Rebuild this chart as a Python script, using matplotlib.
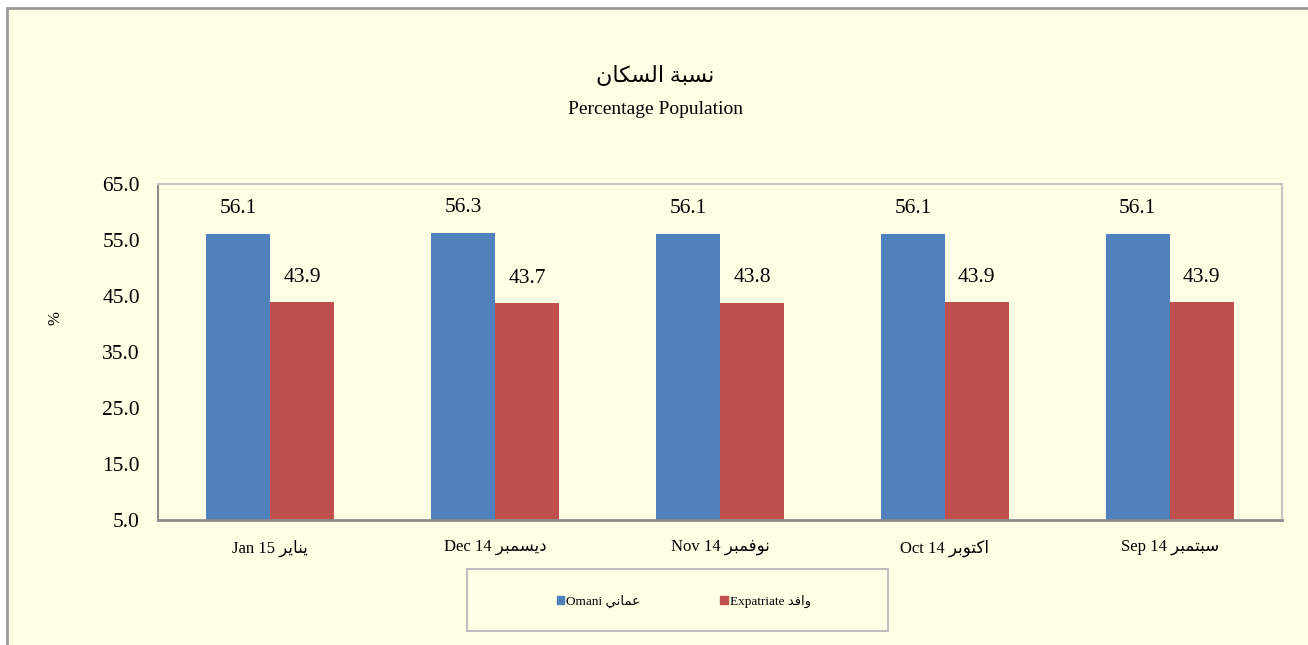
import matplotlib
matplotlib.use("Agg")
import matplotlib.pyplot as plt
from matplotlib.patches import Rectangle
import numpy as np

# ---------------- data ----------------
categories_en = ["Jan 15", "Dec 14", "Nov 14", "Oct 14", "Sep 14"]
categories_ar = ["يناير", "ديسمبر", "نوفمبر", "اكتوبر", "سبتمبر"]
omani = [56.1, 56.3, 56.1, 56.1, 56.1]
expatriate = [43.9, 43.7, 43.8, 43.9, 43.9]
series_en = ["Omani", "Expatriate"]
series_ar = ["عماني", "وافد"]
title_ar = "نسبة السكان"
title_en = "Percentage Population"
yticks = [5.0, 15.0, 25.0, 35.0, 45.0, 55.0, 65.0]

# ------- minimal Arabic shaping (contextual forms + visual order) -------
FORMS = {
    'ا': ('\uFE8D', '\uFE8E', None, None),
    'ب': ('\uFE8F', '\uFE90', '\uFE91', '\uFE92'),
    'ة': ('\uFE93', '\uFE94', None, None),
    'ت': ('\uFE95', '\uFE96', '\uFE97', '\uFE98'),
    'د': ('\uFEA9', '\uFEAA', None, None),
    'ر': ('\uFEAD', '\uFEAE', None, None),
    'س': ('\uFEB1', '\uFEB2', '\uFEB3', '\uFEB4'),
    'ع': ('\uFEC9', '\uFECA', '\uFECB', '\uFECC'),
    'ف': ('\uFED1', '\uFED2', '\uFED3', '\uFED4'),
    'ك': ('\uFED9', '\uFEDA', '\uFEDB', '\uFEDC'),
    'ل': ('\uFEDD', '\uFEDE', '\uFEDF', '\uFEE0'),
    'م': ('\uFEE1', '\uFEE2', '\uFEE3', '\uFEE4'),
    'ن': ('\uFEE5', '\uFEE6', '\uFEE7', '\uFEE8'),
    'و': ('\uFEED', '\uFEEE', None, None),
    'ي': ('\uFEF1', '\uFEF2', '\uFEF3', '\uFEF4'),
}


def shape(text):
    chars = list(text)
    out = []
    for i, c in enumerate(chars):
        if c not in FORMS:
            out.append(c)
            continue
        iso, fin, ini, med = FORMS[c]
        prev = chars[i - 1] if i > 0 else None
        nxt = chars[i + 1] if i + 1 < len(chars) else None
        jp = prev in FORMS and FORMS[prev][2] is not None
        jn = nxt in FORMS and ini is not None
        if jp and jn:
            f = med
        elif jp:
            f = fin
        elif jn:
            f = ini
        else:
            f = iso
        out.append(f)
    return "".join(reversed(out))


FAM = ["Liberation Serif", "DejaVu Sans"]
plt.rcParams["font.family"] = FAM

BG = "#FFFFE6"
BLUE = "#4F81BD"
RED = "#C0504D"

W, H = 1308, 645
fig = plt.figure(figsize=(W / 100, H / 100), dpi=100, facecolor="white")

# outer chart frame
fig.patches.append(Rectangle((7 / W, -0.2), 1.2, (H - 8) / H + 0.2,
                             transform=fig.transFigure, facecolor=BG,
                             edgecolor="#9A9A9A", lw=2, zorder=-10))

ax = fig.add_axes([158 / W, 1 - 520 / H, (1282 - 158) / W, (520 - 184) / H])
ax.set_facecolor(BG)

x = np.arange(len(categories_en))
bw = 64 / 225
b1 = ax.bar(x - bw / 2, omani, bw, color=BLUE, zorder=2)
b2 = ax.bar(x + bw / 2, expatriate, bw, color=RED, zorder=2)

for bars, vals in ((b1, omani), (b2, expatriate)):
    for r, v in zip(bars, vals):
        ax.annotate(f"{v:.1f}", (r.get_x() + r.get_width() / 2, v),
                    xytext=(0, 18), textcoords="offset points",
                    ha="center", va="center", fontsize=15.5)

ax.set_xlim(-0.5, len(x) - 0.5)
ax.set_ylim(5, 65)
ax.set_yticks(yticks)
ax.set_yticklabels([f"{t:.1f}" for t in yticks], fontsize=15.5)
ax.set_xticks(x)
ax.set_xticklabels([f"{e} {shape(a)}" for e, a in zip(categories_en, categories_ar)],
                   fontsize=12)
ax.tick_params(axis="both", length=0)
ax.tick_params(axis="y", pad=13)
ax.tick_params(axis="x", pad=14)

for s in ("top", "right"):
    ax.spines[s].set_color("#C4C4C4")
    ax.spines[s].set_linewidth(1.5)
ax.spines["left"].set_color("#8C8C8C")
ax.spines["left"].set_linewidth(1.5)
ax.spines["bottom"].set_color("#8C8C8C")
ax.spines["bottom"].set_linewidth(2)

fig.text(55 / W, 1 - 318 / H, "%", rotation=90, ha="center", va="center", fontsize=12)

fig.text(655 / W, 1 - 76 / H, shape(title_ar), ha="center", va="center", fontsize=16)
fig.text(655 / W, 1 - 110 / H, title_en, ha="center", va="center", fontsize=14)

# legend box
fig.patches.append(Rectangle((467 / W, 1 - 631 / H), 421 / W, 62 / H,
                             transform=fig.transFigure, facecolor=BG,
                             edgecolor="#BDBDBD", lw=1.5, zorder=-5))
handles = [Rectangle((0, 0), 1, 1, color=BLUE), Rectangle((0, 0), 1, 1, color=RED)]
labels = [f"{e} {shape(a)}" for e, a in zip(series_en, series_ar)]
fig.legend(handles, labels, loc="center", bbox_to_anchor=(684 / W, 1 - 601 / H),
           ncol=2, frameon=False, fontsize=9.5, handlelength=0.55, handleheight=0.55,
           handletextpad=0.15, columnspacing=6.05)

fig.savefig("out.png", dpi=100, facecolor="white")
